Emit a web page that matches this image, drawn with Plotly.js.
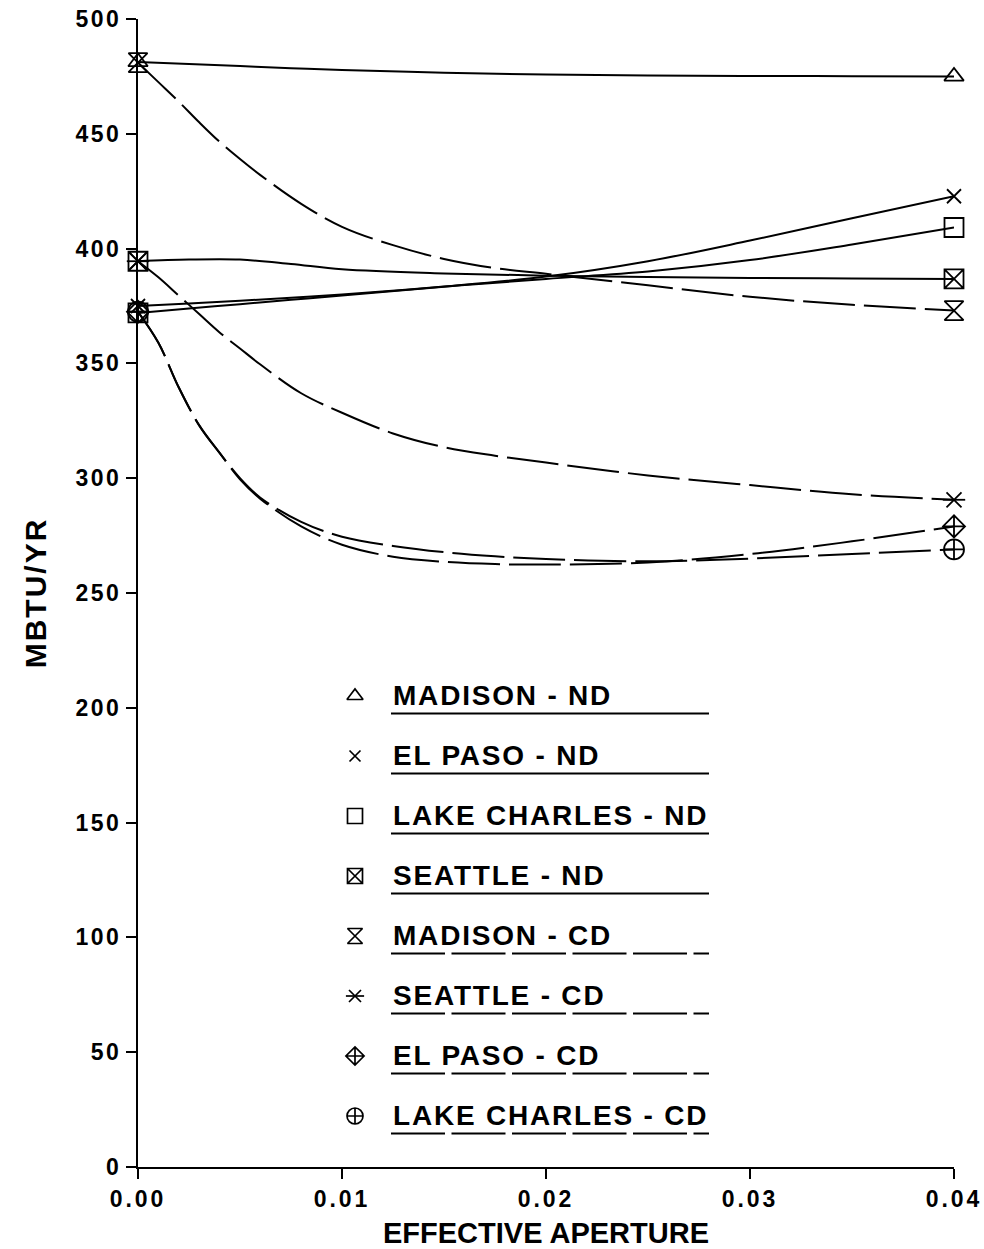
<!DOCTYPE html>
<html><head><meta charset="utf-8">
<script src="https://cdn.plot.ly/plotly-3.0.1.min.js"></script>
<style>
html,body{margin:0;padding:0;background:#fff;}
#chart{width:984px;height:1249px;}
.xtick text{letter-spacing:3px;}
.ytick text{letter-spacing:2.5px;}
.annotation-text{letter-spacing:1.8px;}
.ytitle{letter-spacing:2px;}
</style></head><body><div id="chart"></div>
<script>
// ---- data ----
const seriesNames = ['MADISON - ND','EL PASO - ND','LAKE CHARLES - ND','SEATTLE - ND',
                     'MADISON - CD','SEATTLE - CD','EL PASO - CD','LAKE CHARLES - CD'];
const ndX = [0,0.0025,0.005,0.0075,0.01,0.015,0.02,0.025,0.03,0.035,0.04];
const madisonND     = [481.3,480.4,479.5,478.6,477.8,476.6,475.8,475.4,475.2,475.1,475.0];
const elPasoND      = [375.0,376.1,377.3,378.6,380.0,383.5,387.8,394.5,403.5,413.2,422.8];
const lakeCharlesND = [372.0,373.9,375.8,377.7,379.6,383.4,386.8,390.0,395.0,401.8,409.2];
const seattleND     = [394.5,395.2,395.2,393.3,391.0,389.2,388.2,387.6,387.2,387.0,386.8];
const cdX = [0,0.001,0.002,0.003,0.004,0.005,0.006,0.008,0.01,0.0125,0.015,0.0175,0.02,0.025,0.03,0.035,0.04];
const madisonCD     = [481,472.5,464,455,446.5,439,432,419.5,409.5,401.5,395.5,391.5,389,384,379,375.5,373];
const seattleCD     = [394.5,387.5,379.5,371.5,363.5,356.5,349.5,337,328.5,319.5,313.5,309.8,306.8,301.2,297,293,290.6];
const elPasoCD      = [372.5,359,339.5,323,311,299.5,291,279,271,265.8,263.6,262.6,262.4,263.3,267,272.5,279];
const lakeCharlesCD = [372.5,359,339.5,323,311,300,291.5,281,274.5,270.5,267.8,266,264.8,263.8,265,267,269];
const xTicks = [0,0.01,0.02,0.03,0.04];
const yTicks = [0,50,100,150,200,250,300,350,400,450,500];

// ---- styling ----
const FONT = '"Liberation Sans", Arial, Helvetica, sans-serif';
const seriesX = [ndX,ndX,ndX,ndX,cdX,cdX,cdX,cdX];
const seriesY = [madisonND,elPasoND,lakeCharlesND,seattleND,madisonCD,seattleCD,elPasoCD,lakeCharlesCD];
const symbols = [['triangle-up-open'],['x-thin-open'],['square-open'],['square-x-open'],
                 ['hourglass-open'],['x-thin-open','line-ew-open'],['diamond-cross-open'],['circle-cross-open']];
const sizes = [[17],[14],[19],[19],[19],[15,16],[17],[20]];
const dashes = ['solid','solid','solid','solid','52px,9px','52px,9px','52px,9px','52px,9px'];

const traces = [];
seriesY.forEach((ys,i)=>{
  const xs = seriesX[i];
  traces.push({x:xs, y:ys, type:'scatter', mode:'lines', name:seriesNames[i],
    line:{color:'#000', width:2, dash:dashes[i], shape:'spline', smoothing:1},
    cliponaxis:false, hoverinfo:'skip', showlegend:false});
  symbols[i].forEach((sym,k)=>{
    traces.push({x:[xs[0], xs[xs.length-1]], y:[ys[0], ys[ys.length-1]], type:'scatter', mode:'markers',
      marker:{symbol:sym, size:sizes[i][k], color:'#000', line:{color:'#000', width:1.8}},
      cliponaxis:false, hoverinfo:'skip', showlegend:false});
  });
});

// ---- custom legend (rows) ----
const PH = 1148, Y0 = 1167, X0 = 138, PW = 816;
const annotations = [], shapes = [];
seriesNames.forEach((nm,i)=>{
  const yc = (Y0 - (695 + 60*i))/PH;
  symbols[i].forEach((sym,k)=>{
    traces.push({x:[(355-X0)/PW], y:[(Y0-(696+60*i))/PH], xaxis:'x2', yaxis:'y2', type:'scatter', mode:'markers',
      marker:{symbol:sym, size:Math.round(sizes[i][k]*0.8), color:'#000', line:{color:'#000', width:1.7}},
      cliponaxis:false, hoverinfo:'skip', showlegend:false});
  });
  annotations.push({xref:'paper', yref:'paper', x:(391-X0)/PW, y:yc, xanchor:'left', yanchor:'middle',
    text:nm, showarrow:false, font:{family:FONT, size:28, weight:700, color:'#000'}});
  const yu = (Y0 - (713.5 + 60*i))/PH;
  shapes.push({type:'line', xref:'paper', yref:'paper', x0:(391-X0)/PW, x1:(709-X0)/PW, y0:yu, y1:yu,
    line:{color:'#000', width:2, dash: i<4 ? 'solid' : '54px,6.5px'}});
});

const layout = {
  width:984, height:1249,
  margin:{l:X0, r:984-X0-PW, t:19, b:82},
  paper_bgcolor:'#fff', plot_bgcolor:'#fff',
  font:{family:FONT, color:'#000'},
  showlegend:false,
  xaxis:{range:[0,0.04], tickvals:xTicks, ticktext:xTicks.map(v=>v.toFixed(2)),
    ticks:'outside', ticklen:10, tickwidth:2, tickcolor:'#000',
    showline:true, linewidth:2, linecolor:'#000', showgrid:false, zeroline:false,
    tickfont:{family:FONT, size:23, weight:700, color:'#000'},
    title:{text:'EFFECTIVE APERTURE', font:{family:FONT, size:29, weight:700, color:'#000'}, standoff:12}},
  yaxis:{range:[0,500], tickvals:yTicks, ticktext:yTicks.map(String),
    ticks:'outside', ticklen:10, tickwidth:2, tickcolor:'#000',
    showline:true, linewidth:2, linecolor:'#000', showgrid:false, zeroline:false,
    tickfont:{family:FONT, size:23, weight:700, color:'#000'},
    title:{text:'MBTU/YR', font:{family:FONT, size:30, weight:700, color:'#000'}, standoff:20}},
  xaxis2:{overlaying:'x', range:[0,1], visible:false, anchor:'y2'},
  yaxis2:{overlaying:'y', range:[0,1], visible:false, anchor:'x2'},
  annotations, shapes
};
Plotly.newPlot('chart', traces, layout, {staticPlot:true, displayModeBar:false});
</script></body></html>
